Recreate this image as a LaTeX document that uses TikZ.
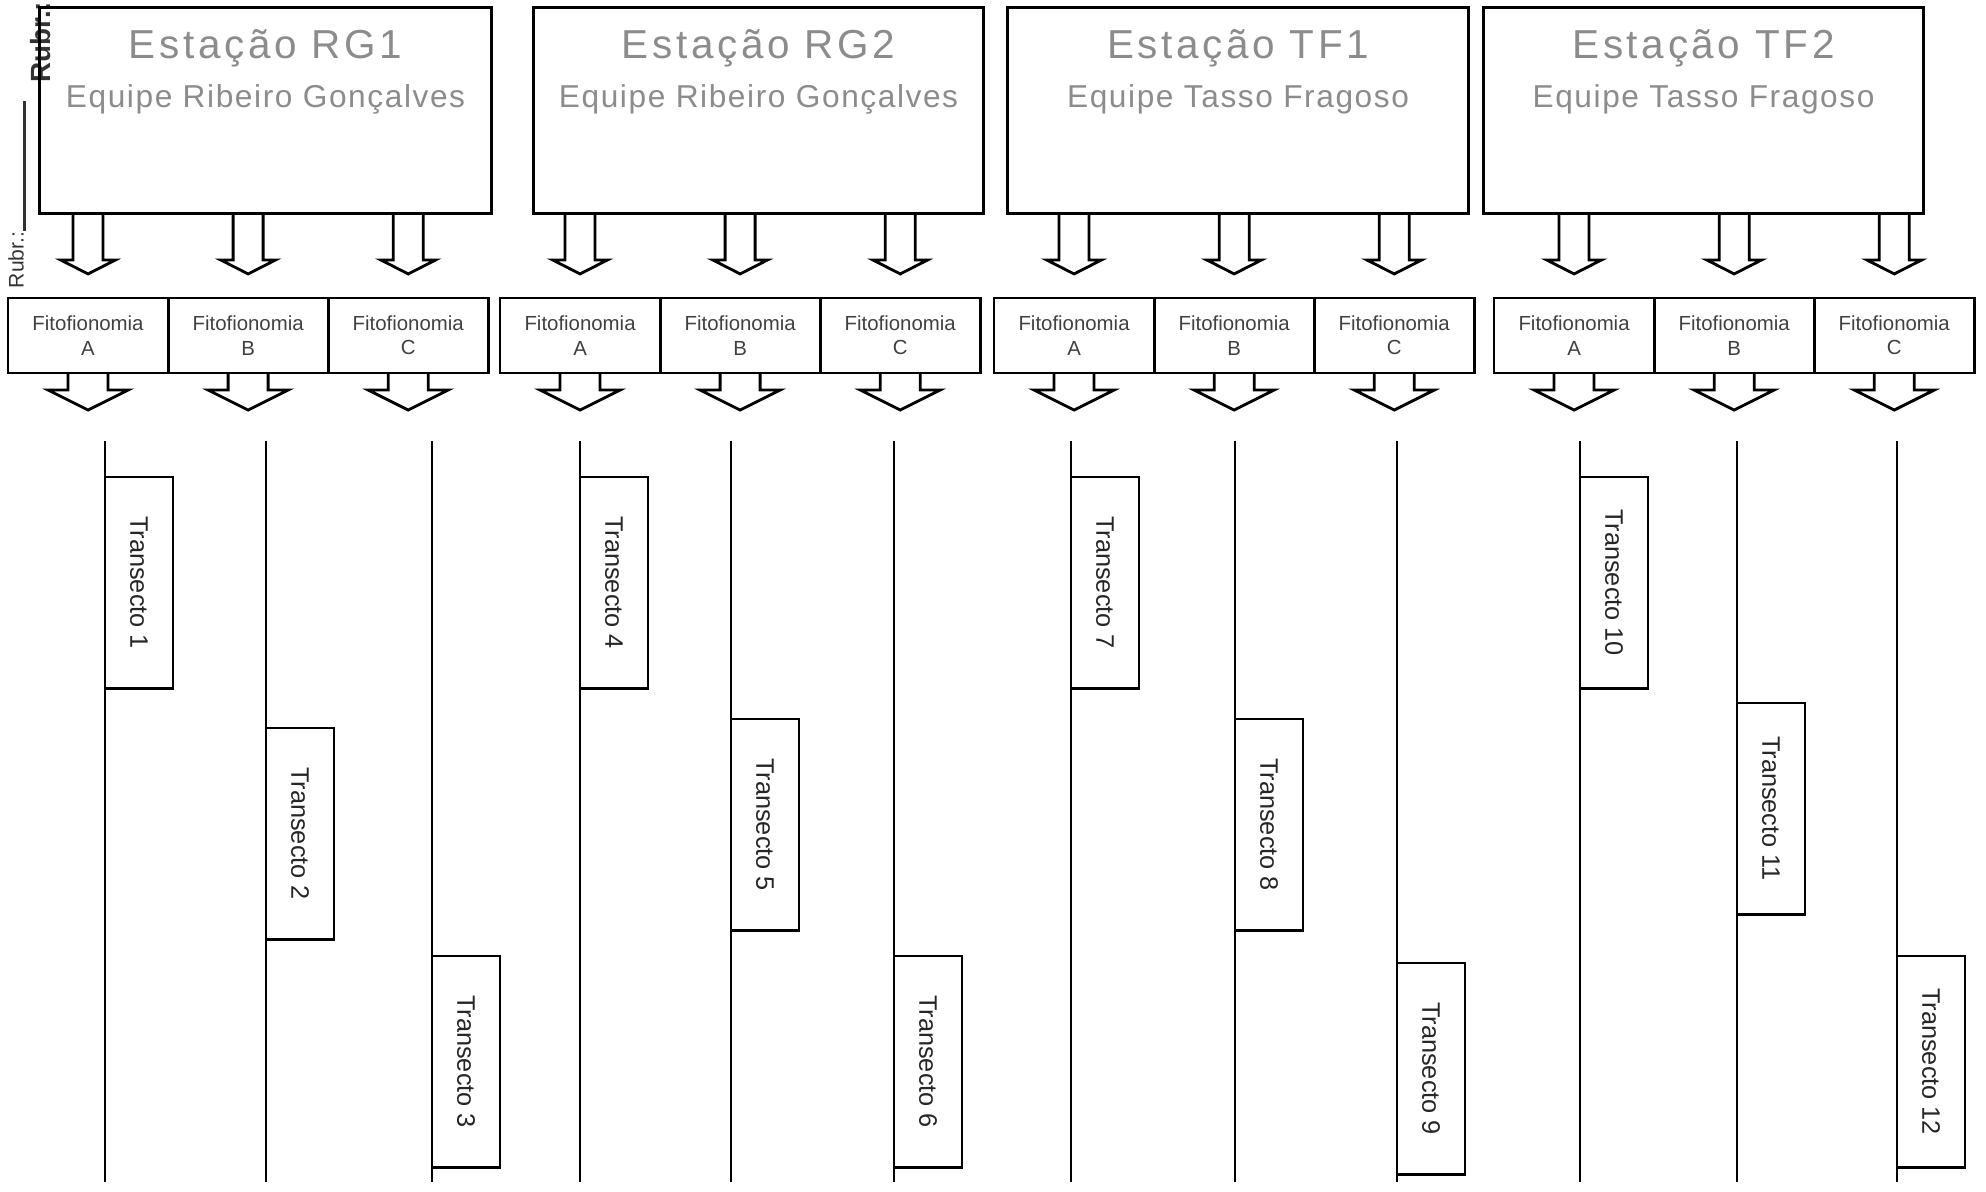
\documentclass[tikz,border=0pt]{standalone}
\usepackage{fontspec}
\setmainfont{Liberation Sans}
\newfontfamily\titlefont[LetterSpace=9]{Liberation Sans}
\newfontfamily\teamfont[LetterSpace=5]{Liberation Sans}
\usetikzlibrary{positioning}

% hollow block arrow pointing down: start, half shaft, shaft length, half head, head length
\newcommand{\blockdown}[5]{%
    \draw[line width=0.8pt] #1 ++(-#2,0) -- ++(0,#3) -- ++({#2-#4},0) -- ++(#4,#5) -- ++(#4,-#5) -- ++({#2-#4},0) -- ++(0,-#3);
}

\begin{document}
\begin{tikzpicture}
    [
        x=0.01cm, y=-0.01cm,
        station/.style = {draw, shape=rectangle, anchor=north west, minimum width=#1, minimum height=2.06cm, line width=0.8pt, inner sep=0pt},
        stationname/.style = {anchor=base, yshift=-0.52cm, text=black!45, font=\titlefont\fontsize{11.5}{14}\selectfont},
        team/.style = {anchor=base, yshift=-1.01cm, text=black!45, font=\teamfont\fontsize{9}{11}\selectfont},
        cell/.style = {draw, shape=rectangle, anchor=north west, minimum width=1.6cm, minimum height=0.75cm, outer sep=0pt, inner sep=0pt, line width=0.8pt, align=center, text=black!75, font=\fontsize{5.8}{6.9}\selectfont},
        transect/.style = {draw, fill=white, shape=rectangle, anchor=north west, minimum width=0.68cm, minimum height=2.11cm, outer sep=0pt, inner sep=0pt, line width=0.8pt, text=black!85, font=\fontsize{7.2}{9}\selectfont},
        stamp/.style = {rotate=90, inner sep=0pt, text=black!80, font=\fontsize{6}{7}\selectfont},
    ]

    \useasboundingbox (0,0) rectangle (1986,1191);

    % stamp on the margin
    \node[stamp] (rubr) at (16,260) {Rubr.:};
    \node[stamp, font=\fontsize{7.9}{9}\selectfont\bfseries] (rubrb) at (41,42) {Rubr.:};
    \draw[line width=0.6pt, black!80] (rubr.south east) -- ++(0,-130);

    % stations
    \node[station=4.52cm] (rg1) at (38,6)   {};
    \node[station=4.50cm] (rg2) at (532,6)  {};
    \node[station=4.61cm] (tf1) at (1006,6) {};
    \node[station=4.40cm] (tf2) at (1482,6) {};

    \node[stationname] (rg1name) at (rg1.north) {Estação RG1};
    \node[team]        (rg1team) at (rg1.north) {Equipe Ribeiro Gonçalves};
    \node[stationname] (rg2name) at (rg2.north) {Estação RG2};
    \node[team]        (rg2team) at (rg2.north) {Equipe Ribeiro Gonçalves};
    \node[stationname] (tf1name) at (tf1.north) {Estação TF1};
    \node[team]        (tf1team) at (tf1.north) {Equipe Tasso Fragoso};
    \node[stationname] (tf2name) at (tf2.north) {Estação TF2};
    \node[team]        (tf2team) at (tf2.north) {Equipe Tasso Fragoso};

    % fitofionomias
    \node[cell] (rg1a) at (8,298) {Fitofionomia\\A};
    \node[cell, right=0pt of rg1a] (rg1b) {Fitofionomia\\B};
    \node[cell, right=0pt of rg1b] (rg1c) {Fitofionomia\\C};
    \node[cell] (rg2a) at (500,298) {Fitofionomia\\A};
    \node[cell, right=0pt of rg2a] (rg2b) {Fitofionomia\\B};
    \node[cell, right=0pt of rg2b] (rg2c) {Fitofionomia\\C};
    \node[cell] (tf1a) at (994,298) {Fitofionomia\\A};
    \node[cell, right=0pt of tf1a] (tf1b) {Fitofionomia\\B};
    \node[cell, right=0pt of tf1b] (tf1c) {Fitofionomia\\C};
    \node[cell] (tf2a) at (1494,298) {Fitofionomia\\A};
    \node[cell, right=0pt of tf2a] (tf2b) {Fitofionomia\\B};
    \node[cell, right=0pt of tf2b] (tf2c) {Fitofionomia\\C};

    % arrows station -> fitofionomia
    \blockdown{(rg1a.north |- rg1.south)}{15}{45}{27.5}{14}
    \blockdown{(rg1b.north |- rg1.south)}{15}{45}{27.5}{14}
    \blockdown{(rg1c.north |- rg1.south)}{15}{45}{27.5}{14}
    \blockdown{(rg2a.north |- rg2.south)}{15}{45}{27.5}{14}
    \blockdown{(rg2b.north |- rg2.south)}{15}{45}{27.5}{14}
    \blockdown{(rg2c.north |- rg2.south)}{15}{45}{27.5}{14}
    \blockdown{(tf1a.north |- tf1.south)}{15}{45}{27.5}{14}
    \blockdown{(tf1b.north |- tf1.south)}{15}{45}{27.5}{14}
    \blockdown{(tf1c.north |- tf1.south)}{15}{45}{27.5}{14}
    \blockdown{(tf2a.north |- tf2.south)}{15}{45}{27.5}{14}
    \blockdown{(tf2b.north |- tf2.south)}{15}{45}{27.5}{14}
    \blockdown{(tf2c.north |- tf2.south)}{15}{45}{27.5}{14}

    % arrows fitofionomia -> transects
    \blockdown{(rg1a.south)}{20}{17}{40}{20}
    \blockdown{(rg1b.south)}{20}{17}{40}{20}
    \blockdown{(rg1c.south)}{20}{17}{40}{20}
    \blockdown{(rg2a.south)}{20}{17}{40}{20}
    \blockdown{(rg2b.south)}{20}{17}{40}{20}
    \blockdown{(rg2c.south)}{20}{17}{40}{20}
    \blockdown{(tf1a.south)}{20}{17}{40}{20}
    \blockdown{(tf1b.south)}{20}{17}{40}{20}
    \blockdown{(tf1c.south)}{20}{17}{40}{20}
    \blockdown{(tf2a.south)}{20}{17}{40}{20}
    \blockdown{(tf2b.south)}{20}{17}{40}{20}
    \blockdown{(tf2c.south)}{20}{17}{40}{20}

    % transects
    \coordinate (top) at (0,441);
    \coordinate (bot) at (0,1182);

    \node[transect] (t1)  at (105,477)  {\rotatebox{-90}{Transecto 1}};
    \node[transect] (t2)  at (266,728)  {\rotatebox{-90}{Transecto 2}};
    \node[transect] (t3)  at (432,956)  {\rotatebox{-90}{Transecto 3}};
    \node[transect] (t4)  at (580,477)  {\rotatebox{-90}{Transecto 4}};
    \node[transect] (t5)  at (731,719)  {\rotatebox{-90}{Transecto 5}};
    \node[transect] (t6)  at (894,956)  {\rotatebox{-90}{Transecto 6}};
    \node[transect] (t7)  at (1071,477) {\rotatebox{-90}{Transecto 7}};
    \node[transect] (t8)  at (1235,719) {\rotatebox{-90}{Transecto 8}};
    \node[transect] (t9)  at (1397,963) {\rotatebox{-90}{Transecto 9}};
    \node[transect] (t10) at (1580,477) {\rotatebox{-90}{Transecto 10}};
    \node[transect] (t11) at (1737,703) {\rotatebox{-90}{Transecto 11}};
    \node[transect] (t12) at (1897,956) {\rotatebox{-90}{Transecto 12}};

    \draw[line width=0.8pt] (t1.north west) -- (t1.north west |- top) (t1.south west) -- (t1.south west |- bot);
    \draw[line width=0.8pt] (t2.north west) -- (t2.north west |- top) (t2.south west) -- (t2.south west |- bot);
    \draw[line width=0.8pt] (t3.north west) -- (t3.north west |- top) (t3.south west) -- (t3.south west |- bot);
    \draw[line width=0.8pt] (t4.north west) -- (t4.north west |- top) (t4.south west) -- (t4.south west |- bot);
    \draw[line width=0.8pt] (t5.north west) -- (t5.north west |- top) (t5.south west) -- (t5.south west |- bot);
    \draw[line width=0.8pt] (t6.north west) -- (t6.north west |- top) (t6.south west) -- (t6.south west |- bot);
    \draw[line width=0.8pt] (t7.north west) -- (t7.north west |- top) (t7.south west) -- (t7.south west |- bot);
    \draw[line width=0.8pt] (t8.north west) -- (t8.north west |- top) (t8.south west) -- (t8.south west |- bot);
    \draw[line width=0.8pt] (t9.north west) -- (t9.north west |- top) (t9.south west) -- (t9.south west |- bot);
    \draw[line width=0.8pt] (t10.north west) -- (t10.north west |- top) (t10.south west) -- (t10.south west |- bot);
    \draw[line width=0.8pt] (t11.north west) -- (t11.north west |- top) (t11.south west) -- (t11.south west |- bot);
    \draw[line width=0.8pt] (t12.north west) -- (t12.north west |- top) (t12.south west) -- (t12.south west |- bot);
\end{tikzpicture}
\end{document}
